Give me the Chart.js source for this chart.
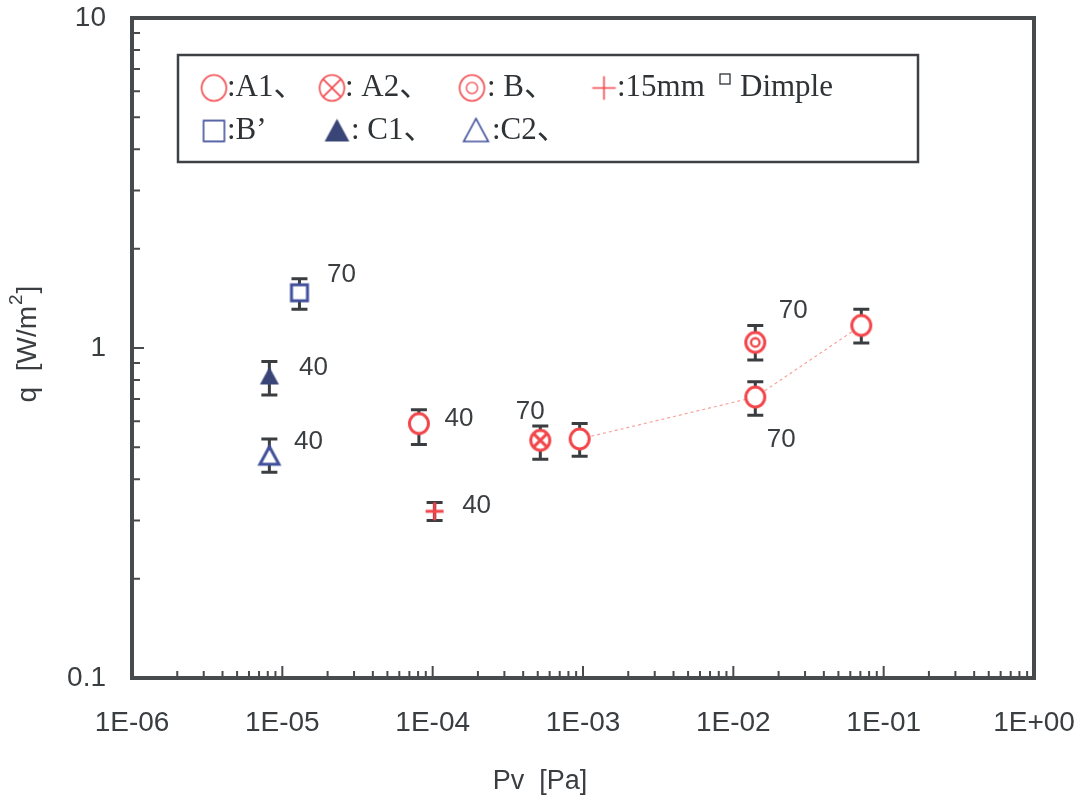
<!DOCTYPE html>
<html>
<head>
<meta charset="utf-8">
<script src="https://cdn.jsdelivr.net/npm/chart.js@4.4.1/dist/chart.umd.min.js"></script>
<style>
  html, body { margin: 0; background: #fff; }
</style>
</head>
<body>
<canvas id="chart" width="1090" height="805"></canvas>
<script>
// Pv [Pa] on x, q [W/m2] on y, error bar low / high, note = temperature label
const a1Pv = [8.1e-5, 9.5e-4, 1.4e-2, 7.1e-2];
const a1Q  = [0.59, 0.53, 0.71, 1.17];
const a1Lo = [0.51, 0.47, 0.625, 1.035];
const a1Hi = [0.65, 0.59, 0.79, 1.31];
const a1Note = ['40', '', '70', ''];

const a2Pv = [5.2e-4];
const a2Q  = [0.525];
const a2Lo = [0.46];
const a2Hi = [0.58];
const a2Note = ['70'];

const bPv = [1.4e-2];
const bQ  = [1.04];
const bLo = [0.92];
const bHi = [1.17];
const bNote = ['70'];

const dimplePv = [1.03e-4];
const dimpleQ  = [0.32];
const dimpleLo = [0.30];
const dimpleHi = [0.34];
const dimpleNote = ['40'];

const bpPv = [1.3e-5];
const bpQ  = [1.47];
const bpLo = [1.31];
const bpHi = [1.62];
const bpNote = ['70'];

const c1Pv = [8.2e-6];
const c1Q  = [0.82];
const c1Lo = [0.72];
const c1Hi = [0.91];
const c1Note = ['40'];

const c2Pv = [8.2e-6];
const c2Q  = [0.47];
const c2Lo = [0.42];
const c2Hi = [0.53];
const c2Note = ['40'];

const xTickValues = [1e-6, 1e-5, 1e-4, 1e-3, 1e-2, 1e-1, 1];
const xTickLabels = ['1E-06', '1E-05', '1E-04', '1E-03', '1E-02', '1E-01', '1E+00'];
const yTickValues = [0.1, 1, 10];
const yTickLabels = ['0.1', '1', '10'];

const RED = '#f2464b';
const BLUE = '#41509a';
const NAVY = '#3a4577';
const INK = '#3a3e41';

// marker images
function marker(kind, lw, scale) {
    const s = scale || 1;
    const c = document.createElement('canvas');
    c.width = Math.round(30 * s); c.height = Math.round(30 * s);
    const g = c.getContext('2d');
    const m = c.width / 2;
    g.lineWidth = lw;
    g.fillStyle = '#fff';
    if (kind === 'circle' || kind === 'circleX' || kind === 'double') {
        const r = 9.5 * s;
        g.strokeStyle = RED;
        g.beginPath(); g.ellipse(m, m, r, r * 1.05, 0, 0, Math.PI * 2); g.fill(); g.stroke();
        if (kind === 'circleX') {
            const d = r * 0.7;
            g.beginPath();
            g.moveTo(m - d, m - d); g.lineTo(m + d, m + d);
            g.moveTo(m + d, m - d); g.lineTo(m - d, m + d);
            g.stroke();
        }
        if (kind === 'double') {
            g.lineWidth = lw * 0.8;
            g.beginPath(); g.arc(m, m, r * 0.45, 0, Math.PI * 2); g.stroke();
        }
    } else if (kind === 'plus') {
        g.strokeStyle = RED;
        g.beginPath();
        g.moveTo(m - 9 * s, m); g.lineTo(m + 9 * s, m);
        g.moveTo(m, m - 9 * s); g.lineTo(m, m + 9 * s);
        g.stroke();
    } else if (kind === 'square') {
        g.strokeStyle = BLUE;
        const h = 8 * s;
        g.beginPath(); g.rect(m - h, m - h, 2 * h, 2 * h); g.fill(); g.stroke();
    } else if (kind === 'triFilled' || kind === 'triOpen') {
        const h = 9.5 * s;
        g.beginPath();
        g.moveTo(m, m - h); g.lineTo(m + h, m + h * 0.85); g.lineTo(m - h, m + h * 0.85); g.closePath();
        if (kind === 'triFilled') { g.fillStyle = NAVY; g.fill(); }
        else { g.strokeStyle = BLUE; g.fill(); g.stroke(); }
    }
    return c;
}

function series(label, xs, ys, lo, hi, notes, kind) {
    return {
        label,
        data: xs.map((x, i) => ({ x, y: ys[i] })),
        errLo: lo, errHi: hi, notes,
        pointStyle: marker(kind, 3),
        pointRadius: 10,
        showLine: false
    };
}

const datasets = [
    Object.assign(series('A1', a1Pv, a1Q, a1Lo, a1Hi, a1Note, 'circle'), {
        showLine: true,
        borderColor: '#f7a39c',
        borderWidth: 1.2,
        borderDash: [3, 3],
        segment: { borderColor: ctx => ctx.p0DataIndex === 0 ? 'rgba(0,0,0,0)' : undefined }
    }),
    series('A2', a2Pv, a2Q, a2Lo, a2Hi, a2Note, 'circleX'),
    series('B', bPv, bQ, bLo, bHi, bNote, 'double'),
    series('15mm Dimple', dimplePv, dimpleQ, dimpleLo, dimpleHi, dimpleNote, 'plus'),
    series("B'", bpPv, bpQ, bpLo, bpHi, bpNote, 'square'),
    series('C1', c1Pv, c1Q, c1Lo, c1Hi, c1Note, 'triFilled'),
    series('C2', c2Pv, c2Q, c2Lo, c2Hi, c2Note, 'triOpen')
];

// note offsets in px from the point, per dataset
const noteOffsets = {
    'A1': [[40, -5], null, [26, 43], null],
    'A2': [[-10, -29]],
    'B': [[38, -32]],
    '15mm Dimple': [[42, -5]],
    "B'": [[42, -18]],
    'C1': [[44, -9]],
    'C2': [[39, -14]]
};

const errorBars = {
    id: 'errorBars',
    beforeDatasetsDraw(chart) {
        const ctx = chart.ctx, ys = chart.scales.y;
        ctx.save();
        ctx.strokeStyle = INK;
        ctx.lineWidth = 3;
        chart.data.datasets.forEach((ds, di) => {
            chart.getDatasetMeta(di).data.forEach((pt, i) => {
                const top = ys.getPixelForValue(ds.errHi[i]);
                const bot = ys.getPixelForValue(ds.errLo[i]);
                ctx.beginPath();
                ctx.moveTo(pt.x, top); ctx.lineTo(pt.x, bot);
                ctx.moveTo(pt.x - 8, top); ctx.lineTo(pt.x + 8, top);
                ctx.moveTo(pt.x - 8, bot); ctx.lineTo(pt.x + 8, bot);
                ctx.stroke();
            });
        });
        ctx.restore();
    },
    afterDatasetsDraw(chart) {
        const ctx = chart.ctx;
        ctx.save();
        ctx.fillStyle = INK;
        ctx.font = '26px "Liberation Sans", Arial, sans-serif';
        ctx.textAlign = 'center';
        ctx.textBaseline = 'middle';
        chart.data.datasets.forEach((ds, di) => {
            const offs = noteOffsets[ds.label];
            chart.getDatasetMeta(di).data.forEach((pt, i) => {
                if (!ds.notes[i] || !offs[i]) return;
                ctx.fillText(ds.notes[i], pt.x + offs[i][0], pt.y + offs[i][1]);
            });
        });
        ctx.restore();
    }
};

const frame = {
    id: 'frame',
    afterDraw(chart) {
        const ctx = chart.ctx, a = chart.chartArea;
        const xs = chart.scales.x, ys = chart.scales.y;
        ctx.save();
        ctx.strokeStyle = '#474b4e';
        ctx.lineWidth = 2;
        ctx.beginPath();
        for (let d = -6; d <= -1; d++) {
            for (let k = 1; k <= 9; k++) {
                if (k === 1 && d === -6) continue;
                const x = xs.getPixelForValue(k * Math.pow(10, d));
                ctx.moveTo(x, a.bottom); ctx.lineTo(x, a.bottom - (k === 1 ? 12 : 7));
            }
        }
        for (let d = -1; d <= 0; d++) {
            for (let k = 1; k <= 9; k++) {
                if (k === 1 && d === -1) continue;
                const y = ys.getPixelForValue(k * Math.pow(10, d));
                ctx.moveTo(a.left, y); ctx.lineTo(a.left + (k === 1 ? 12 : 8), y);
            }
        }
        ctx.stroke();
        ctx.lineWidth = 4;
        ctx.strokeRect(a.left, a.top, a.right - a.left, a.bottom - a.top);

        // axis titles
        ctx.fillStyle = INK;
        ctx.textAlign = 'center';
        ctx.textBaseline = 'middle';
        ctx.font = '27px "Liberation Sans", Arial, sans-serif';
        ctx.fillText('Pv  [Pa]', 540, 782);

        // y title with superscript 2
        const big = '28px "Liberation Sans", Arial, sans-serif';
        const small = '19px "Liberation Sans", Arial, sans-serif';
        const p1 = 'q  [W/m', p2 = '2', p3 = ']';
        ctx.font = big;
        const w1 = ctx.measureText(p1).width, w3 = ctx.measureText(p3).width;
        ctx.font = small;
        const w2 = ctx.measureText(p2).width;
        ctx.translate(28, 345);
        ctx.rotate(-Math.PI / 2);
        ctx.textAlign = 'left';
        let x0 = -(w1 + w2 + w3) / 2;
        ctx.font = big;
        ctx.fillText(p1, x0, 0);
        ctx.font = small;
        ctx.fillText(p2, x0 + w1 + 1, -11);
        ctx.font = big;
        ctx.fillText(p3, x0 + w1 + w2 + 2, 0);
        ctx.restore();
    }
};

// legend box
const legendRows = [
    { y: 88, items: [
        { kind: 'circle', sx: 214, tx: 227, text: ':A1、' },
        { kind: 'circleX', sx: 332, tx: 345, text: ': A2、' },
        { kind: 'double', sx: 472, tx: 487, text: ': B、' },
        { kind: 'plus', sx: 604, tx: 617, text: ':15mm' }
    ] },
    { y: 131, items: [
        { kind: 'square', sx: 214, tx: 227, text: ':B’' },
        { kind: 'triFilled', sx: 337, tx: 351, text: ': C1、' },
        { kind: 'triOpen', sx: 476, tx: 492, text: ':C2、' }
    ] }
];

const legendBox = {
    id: 'legendBox',
    afterDraw(chart) {
        const ctx = chart.ctx;
        ctx.save();
        ctx.strokeStyle = '#3d4144';
        ctx.lineWidth = 2.5;
        ctx.strokeRect(178, 55, 740, 107);
        ctx.fillStyle = '#2f3336';
        ctx.textBaseline = 'middle';
        ctx.textAlign = 'left';
        ctx.font = '31px "Liberation Serif", "Noto Sans CJK JP", serif';
        legendRows.forEach(row => {
            row.items.forEach(it => {
                const img = marker(it.kind, 1.6, 1.3);
                ctx.drawImage(img, it.sx - img.width / 2, row.y - img.height / 2);
                ctx.fillText(it.text, it.tx, row.y);
            });
        });
        ctx.lineWidth = 1.3;
        ctx.strokeStyle = '#2f3336';
        ctx.strokeRect(720, 74, 10, 10);
        ctx.fillText('Dimple', 740, 88);
        ctx.restore();
    }
};

const tickFont = { family: '"Liberation Sans", Arial, sans-serif', size: 28 };

new Chart(document.getElementById('chart'), {
    type: 'scatter',
    data: { datasets },
    options: {
        responsive: false,
        animation: false,
        devicePixelRatio: 1,
        layout: { padding: { left: 0, top: 18, right: 56, bottom: 0 } },
        plugins: { legend: { display: false }, tooltip: { enabled: false } },
        scales: {
            x: {
                type: 'logarithmic',
                min: 1e-6, max: 1,
                afterBuildTicks: s => { s.ticks = xTickValues.map(v => ({ value: v })); },
                afterFit: s => { s.height = 805 - 678; s.paddingLeft = 0; s.paddingRight = 0; },
                ticks: {
                    callback: (v, i) => xTickLabels[i],
                    autoSkip: false, maxRotation: 0,
                    font: tickFont, color: INK, padding: 28
                },
                grid: { display: false, drawTicks: false },
                border: { display: false }
            },
            y: {
                type: 'logarithmic',
                min: 0.1, max: 10,
                afterBuildTicks: s => { s.ticks = yTickValues.map(v => ({ value: v })); },
                afterFit: s => { s.width = 132; s.paddingTop = 0; s.paddingBottom = 0; },
                ticks: {
                    callback: (v, i) => yTickLabels[i],
                    autoSkip: false,
                    font: tickFont, color: INK, padding: 26
                },
                grid: { display: false, drawTicks: false },
                border: { display: false }
            }
        }
    },
    plugins: [errorBars, frame, legendBox]
});
</script>
</body>
</html>
